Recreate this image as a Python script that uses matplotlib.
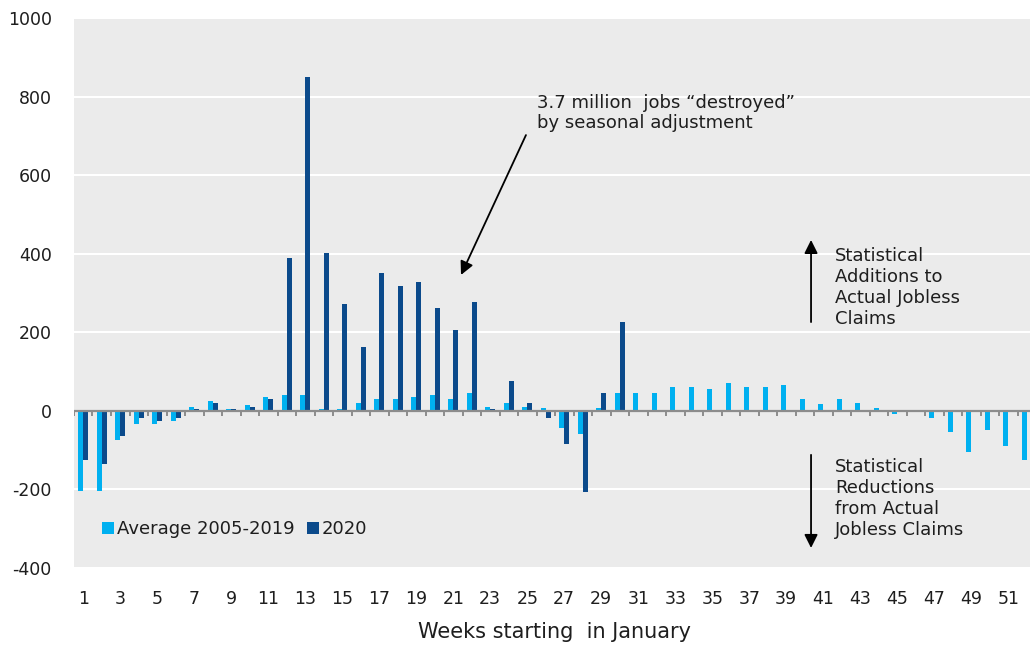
import numpy as np
import matplotlib
matplotlib.use("Agg")
import matplotlib.pyplot as plt

# weekly seasonal adjustment factors (thousands), weeks 1..52
weeks = np.arange(1, 53)
avg_2005_2019 = [-205, -205, -74, -33, -33, -25, 11, 26, 6, 16,
                 36, 41, 41, 6, 6, 21, 31, 31, 36, 41,
                 31, 46, 11, 21, 11, 7, -44, -58, 7, 46,
                 46, 46, 61, 61, 56, 71, 61, 61, 66, 30,
                 17, 30, 21, 7, -8, 0, -19, -53, -104, -48,
                 -89, -124]
y2020 = [-124, -135, -63, -19, -25, -19, 5, 21, 6, 11,
         31, 388, 850, 403, 272, 162, 352, 317, 327, 262,
         207, 277, 6, 76, 21, -19, -84, -206, 46, 227]
y2020 = y2020 + [0] * (len(weeks) - len(y2020))

week_ticks = np.arange(1, 53, 2)
y_ticks = [-400, -200, 0, 200, 400, 600, 800, 1000]

c_light = '#00b0f0'
c_dark = '#0b4a8b'
txt = '#1e1e1e'

plt.rcParams['font.family'] = ['DejaVu Sans']
plt.rcParams['axes.unicode_minus'] = False

fig = plt.figure(figsize=(10.30, 6.49), dpi=100)
ax = fig.add_axes([74/1030, 81/649, 962/1030, 550/649])
ax.set_facecolor('#ebebeb')

w = 0.27
ax.bar(weeks - w/2, avg_2005_2019, width=w, color=c_light, label='Average 2005-2019', zorder=3)
ax.bar(weeks + w/2, y2020, width=w, color=c_dark, label='2020', zorder=3)

ax.set_xlim(0.5, 52.5)
ax.set_ylim(-400, 1000)
ax.set_yticks(y_ticks)
ax.set_xticks(week_ticks)
ax.tick_params(axis='both', length=0, labelsize=12.5, colors=txt)
ax.tick_params(axis='x', pad=16)
ax.tick_params(axis='y', pad=16)
for s in ax.spines.values():
    s.set_visible(False)
ax.yaxis.grid(True, color='white', lw=1.5, zorder=0)
ax.set_axisbelow(True)

# zero line with category tick marks
ax.axhline(0, color='#8c8c8c', lw=1.6, zorder=4)
bounds = np.arange(0.5, 53, 1.0)
ax.vlines(bounds, -13, 0, color='#8c8c8c', lw=1.4, zorder=4)

ax.set_xlabel('Weeks starting  in January', fontsize=15, color=txt, labelpad=10)

leg = ax.legend(loc='center left', bbox_to_anchor=(0.022, 0.071), ncol=2, frameon=False,
                fontsize=13, handlelength=0.65, handleheight=0.65, handletextpad=0.15,
                columnspacing=0.7, borderaxespad=0)
for t in leg.get_texts():
    t.set_color(txt)

arrow = dict(arrowstyle='-|>', color='black', lw=1.3, mutation_scale=20, shrinkA=0, shrinkB=0)

ax.annotate('', xy=(21.42, 346), xytext=(24.93, 702), arrowprops=arrow, zorder=5)
ax.text(25.53, 758, '3.7 million  jobs \u201cdestroyed\u201d\nby seasonal adjustment',
        fontsize=13, color=txt, va='center', ha='left', zorder=5)

ax.annotate('', xy=(40.34, 435), xytext=(40.34, 226), arrowprops=arrow, zorder=5)
ax.text(41.64, 314, 'Statistical\nAdditions to\nActual Jobless\nClaims',
        fontsize=13, color=txt, va='center', ha='left', zorder=5)

ax.annotate('', xy=(40.34, -349), xytext=(40.34, -112), arrowprops=arrow, zorder=5)
ax.text(41.64, -223, 'Statistical\nReductions\nfrom Actual\nJobless Claims',
        fontsize=13, color=txt, va='center', ha='left', zorder=5)

fig.savefig('out.png', dpi=100)
